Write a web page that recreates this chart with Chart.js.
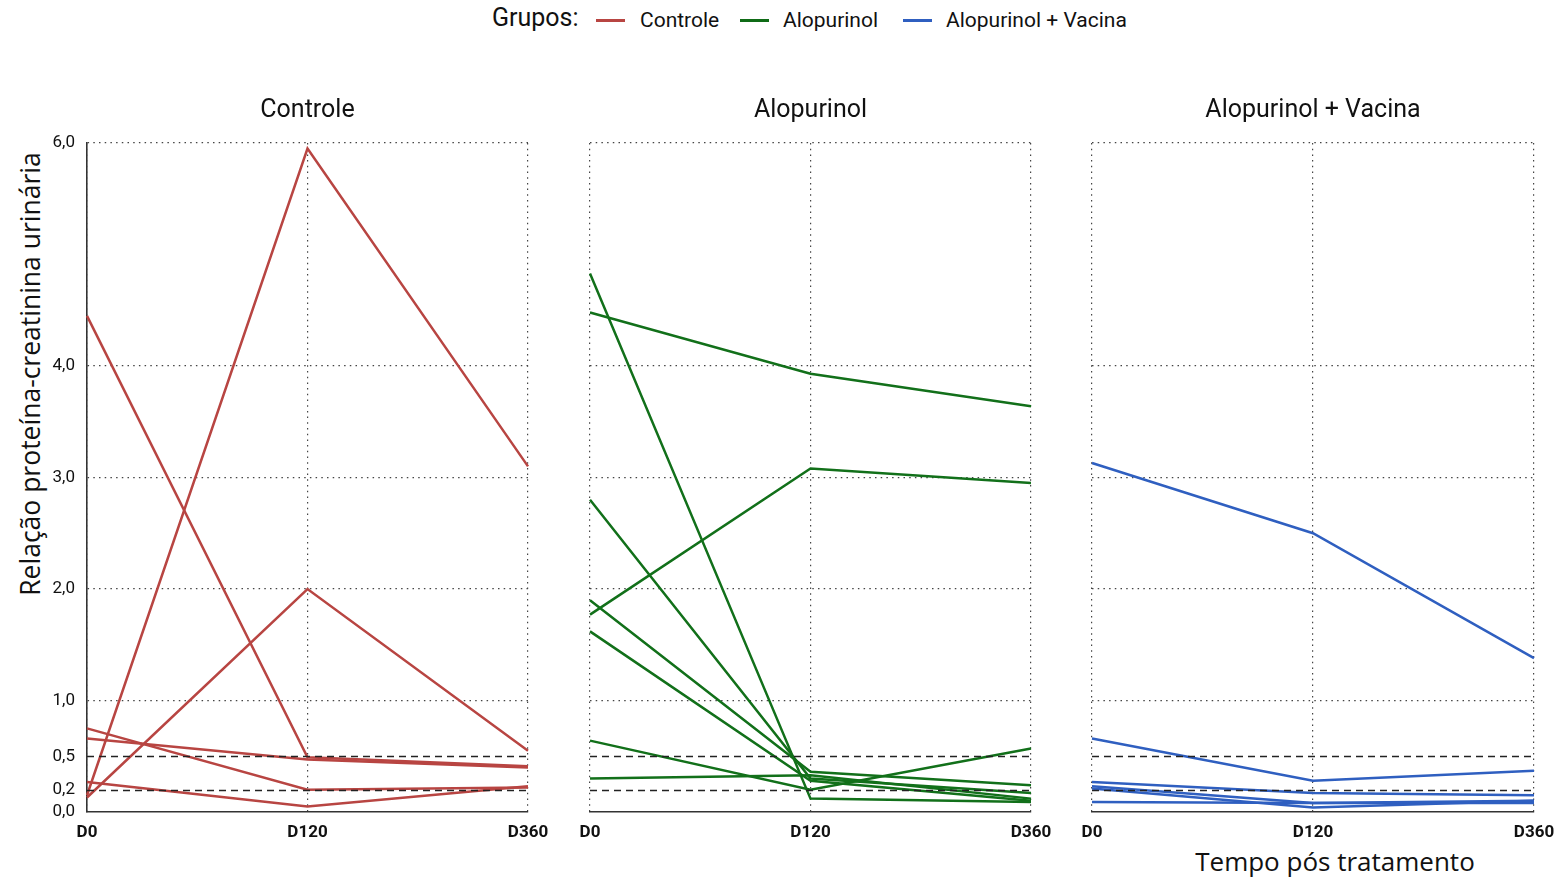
<!DOCTYPE html>
<html>
<head>
<meta charset="utf-8">
<script src="https://cdn.jsdelivr.net/npm/chart.js@4.4.1/dist/chart.umd.min.js"></script>
<style>
  body { margin: 0; background: #fff; width: 1564px; height: 878px; position: relative; overflow: hidden; font-family: Roboto, sans-serif; color: #111; }
  canvas { position: absolute; top: 80px; }
  .lg { position: absolute; top: 6px; font-size: 21px; line-height: 28px; white-space: nowrap; }
  .lg.big { font-size: 25px; }
  .sw { position: absolute; top: 19px; width: 29px; height: 3px; }
  #ytitle { position: absolute; left: 30px; top: 374px; transform: translate(-50%, -50%) rotate(-90deg); font-family: "Open Sans", sans-serif; font-size: 26.5px; white-space: nowrap; }
  #xtitle { position: absolute; left: 1335px; top: 861px; transform: translate(-50%, -50%); font-family: "Open Sans", sans-serif; font-size: 26px; white-space: nowrap; }
</style>
</head>
<body>
<div class="lg big" style="left:492px;top:4px">Grupos:</div>
<div class="sw" style="left:596px;background:#b84542"></div>
<div class="lg" style="left:640px">Controle</div>
<div class="sw" style="left:740px;background:#0f6b16"></div>
<div class="lg" style="left:783px">Alopurinol</div>
<div class="sw" style="left:903px;background:#2f5fc0"></div>
<div class="lg" style="left:946px">Alopurinol + Vacina</div>
<div id="ytitle">Relação proteína-creatinina urinária</div>
<div id="xtitle">Tempo pós tratamento</div>

<canvas id="c1" width="564" height="800" style="left:0px"></canvas>
<canvas id="c2" width="507" height="800" style="left:560px"></canvas>
<canvas id="c3" width="508" height="800" style="left:1062px"></canvas>

<script>
'use strict';

// ===== DADOS =====
const timepoints = ['D0', 'D120', 'D360'];
const yTicks = [0, 0.2, 0.5, 1, 2, 3, 4, 6];
const refLines = [0.2, 0.5];

// um vetor por animal: [D0, D120, D360]
const controle = [
    [4.45, 0.49, 0.41],
    [0.15, 5.95, 3.10],
    [0.13, 2.00, 0.55],
    [0.75, 0.20, 0.22],
    [0.66, 0.47, 0.40],
    [0.27, 0.05, 0.23],
];
const alopurinol = [
    [4.83, 0.12, 0.09],
    [4.48, 3.93, 3.64],
    [1.77, 3.08, 2.95],
    [2.80, 0.30, 0.17],
    [1.90, 0.36, 0.24],
    [1.62, 0.28, 0.10],
    [0.64, 0.20, 0.57],
    [0.30, 0.33, 0.12],
];
const alopVacina = [
    [3.13, 2.50, 1.38],
    [0.66, 0.28, 0.37],
    [0.27, 0.17, 0.15],
    [0.23, 0.08, 0.10],
    [0.21, 0.04, 0.10],
    [0.09, 0.08, 0.08],
];

const fmt = v => v.toFixed(1).replace('.', ',');

// linhas tracejadas de referência (0,2 e 0,5)
const refLinePlugin = {
    id: 'refLines',
    afterDatasetsDraw(chart) {
        const { ctx, chartArea: { left, right }, scales: { y } } = chart;
        ctx.save();
        ctx.strokeStyle = '#222'; ctx.lineWidth = 1.5;
        ctx.setLineDash([7, 5]);
        refLines.forEach(v => {
            const yPos = Math.round(y.getPixelForValue(v)) + 0.5;
            ctx.beginPath(); ctx.moveTo(left, yPos); ctx.lineTo(right, yPos); ctx.stroke();
        });
        ctx.restore();
    }
};

function buildPanel(id, title, series, color, yWidth, showY) {
    new Chart(document.getElementById(id), {
        type: 'line',
        data: {
            labels: timepoints,
            datasets: series.map((d, i) => ({
                label: title + ' ' + (i + 1),
                data: d,
                borderColor: color, borderWidth: 2.5,
                pointRadius: 0, tension: 0, fill: false,
            }))
        },
        options: {
            responsive: false, animation: false,
            layout: { padding: { left: 0, right: 36, top: 0, bottom: 0 } },
            plugins: {
                legend: { display: false },
                tooltip: { enabled: false },
                title: {
                    display: true, text: title, fullSize: false, color: '#111',
                    font: { family: 'Roboto', size: 25, weight: 'normal' },
                    padding: { top: 16, bottom: 17 }
                }
            },
            scales: {
                x: {
                    offset: false,
                    grid: { color: '#444', lineWidth: 1.2, drawTicks: false },
                    border: { display: true, color: '#333', width: 1.6, dash: [1.5, 4.2] },
                    ticks: { color: '#111', padding: 11, font: { family: 'Roboto', size: 17, weight: 'bold' } },
                    afterFit: s => { s.height = 68; }
                },
                y: {
                    min: 0, max: 6,
                    afterBuildTicks: s => { s.ticks = yTicks.map(v => ({ value: v })); },
                    grid: {
                        drawTicks: false, lineWidth: 1.2,
                        color: c => (refLines.includes(c.tick.value) || c.tick.value === 0) ? 'rgba(0,0,0,0)' : '#444'
                    },
                    border: { display: showY, color: '#333', width: 1.6, dash: [1.5, 4.2] },
                    ticks: {
                        display: showY, color: '#111', padding: 12,
                        font: { family: 'Roboto', size: 17 },
                        callback: v => fmt(v)
                    },
                    afterFit: s => { s.width = yWidth; }
                }
            }
        },
        plugins: [refLinePlugin]
    });
}

buildPanel('c1', 'Controle', controle, '#b84542', 87, true);
buildPanel('c2', 'Alopurinol', alopurinol, '#12701a', 30, false);
buildPanel('c3', 'Alopurinol + Vacina', alopVacina, '#2f5fc0', 30, false);
</script>
</body>
</html>
